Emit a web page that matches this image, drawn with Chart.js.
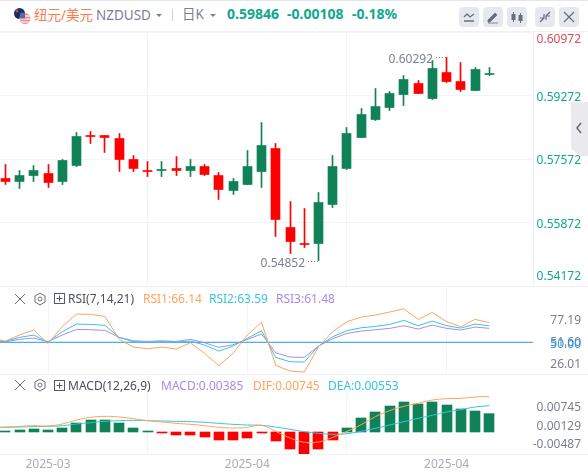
<!DOCTYPE html>
<html>
<head>
<meta charset="utf-8">
<script src="https://cdn.jsdelivr.net/npm/chart.js@4/dist/chart.umd.min.js"></script>
<style>
html,body{margin:0;padding:0;background:#fff;overflow:hidden}
#wrap{position:relative;width:588px;height:474px;overflow:hidden;font-family:"Noto Sans","Noto Sans CJK SC",sans-serif;border-top:1px solid #e4e7f0;box-sizing:border-box}
#wrap canvas{position:absolute;left:0}
.t{position:absolute;white-space:nowrap;line-height:16px;font-size:12px}
.btn{position:absolute;top:6px;width:20px;height:20px;background:#e6e8ef;border-radius:4px}
.btn svg,.ic{position:absolute;left:0;top:0}
.sep{position:absolute;left:0;width:588px;height:1px;background:#f0f1f5}
#side{position:absolute;left:571px;top:101px;width:17px;height:54px;background:#e9e9ee;clip-path:polygon(0 0,100% 0,100% 100%,50% 100%,0 86%)}
</style>
</head>
<body>
<div id="wrap">
  <canvas id="mainChart" width="588" height="254" style="top:31px"></canvas>
  <canvas id="rsiChart" width="588" height="88" style="top:285px"></canvas>
  <canvas id="macdChart" width="588" height="100" style="top:373px"></canvas>

  <div class="sep" style="top:30px"></div>
  <div class="sep" style="top:285px"></div>
  <div class="sep" style="top:373px"></div>
  <div class="sep" style="top:453px"></div>

  <svg class="ic" style="left:13px;top:6px" width="20" height="20">
    <circle cx="6.5" cy="6.5" r="5.5" fill="#12306e"/><circle cx="4" cy="4" r="1.4" fill="#d8404a"/>
    <circle cx="12" cy="11.5" r="5.5" fill="#e88f98"/><path d="M7 9h10M6.5 12h11M7 15h9" stroke="#fff" stroke-width="1"/>
    <path d="M7 6.5a5.500 5.500 0 0 1 5-0.500v5.500H7z" fill="#5d6a99"/>
  </svg>
  <div class="t" style="left:34px;top:6px;font-size:13.500px;color:#ff7a4f">纽元/美元</div>
  <div class="t" style="left:96px;top:6px;font-size:13.500px;color:#7d8090">NZDUSD</div>
  <svg class="ic" style="left:156px;top:12px" width="8" height="6"><path d="M0 1h6L3 4z" fill="#7d8090"/></svg>
  <div style="position:absolute;left:172px;top:8px;width:1px;height:12px;background:#ccd0dc"></div>
  <div class="t" style="left:182px;top:5px;font-size:13.500px;color:#7d8090">日K</div>
  <svg class="ic" style="left:210px;top:12px" width="8" height="6"><path d="M0 1h6L3 4z" fill="#7d8090"/></svg>
  <div class="t" style="left:227px;top:5px;font-size:14px;font-weight:700;color:#10a88c">0.59846</div>
  <div class="t" style="left:287px;top:5px;font-size:14px;font-weight:700;color:#10a88c">-0.00108</div>
  <div class="t" style="left:352px;top:5px;font-size:14px;font-weight:700;color:#10a88c">-0.18%</div>

  <div class="btn" style="left:459px"><svg width="20" height="20"><path d="M5 10l3-3 3 3 4-3M5 14h10" fill="none" stroke="#6a6d7c" stroke-width="1.300"/></svg></div>
  <div class="btn" style="left:483px"><svg width="20" height="20"><path d="M5 13l7-7 2 2-7 7H5zM5 16h10" fill="#6a6d7c" stroke="#6a6d7c" stroke-width="0.800"/></svg></div>
  <div class="btn" style="left:507px"><svg width="20" height="20"><path d="M6.500 5v10M13.500 6v10" stroke="#6a6d7c"/><rect x="4.500" y="7" width="4" height="6" fill="#6a6d7c"/><rect x="11.500" y="8" width="4" height="6" fill="#6a6d7c"/></svg></div>
  <div class="btn" style="left:535px"><svg width="20" height="20"><path d="M5 15l4-4M15 5l-4 4M9 7v4H5M11 13V9h4" fill="none" stroke="#6a6d7c" stroke-width="1.200"/></svg></div>
  <div class="btn" style="left:559px"><svg width="20" height="20"><path d="M5 5l10 10M15 5L5 15" stroke="#6a6d7c" stroke-width="1.200"/></svg></div>

  <div id="side"><svg width="17" height="54"><path d="M10 21l-4 5 4 5" fill="none" stroke="#666a78" stroke-width="1.500"/></svg></div>

  <svg class="ic" style="left:13px;top:291px" width="40" height="16">
    <path d="M2 2l10 10M12 2L2 12" stroke="#6a6d7c"/>
    <path d="M27 1l5 3v6l-5 3-5-3V4z" fill="none" stroke="#6a6d7c"/><circle cx="27" cy="7" r="2" fill="none" stroke="#6a6d7c"/>
  </svg>
  <svg class="ic" style="left:54px;top:292px" width="12" height="12"><rect x="0.500" y="0.500" width="10" height="10" fill="none" stroke="#55586a"/><path d="M5.500 2.500v6M2.500 5.500h6" stroke="#55586a"/></svg>
  <div class="t" style="left:68px;top:290px;color:#4a4d5c">RSI(7,14,21)</div>
  <div class="t" style="left:143px;top:290px;color:#ffa35c">RSI1:66.14</div>
  <div class="t" style="left:209px;top:290px;color:#35c6dc">RSI2:63.59</div>
  <div class="t" style="left:276px;top:290px;color:#a98be8">RSI3:61.48</div>

  <svg class="ic" style="left:13px;top:378px" width="40" height="16">
    <path d="M2 1l10 10M12 1L2 11" stroke="#6a6d7c"/>
    <path d="M27 0l5 3v6l-5 3-5-3V3z" fill="none" stroke="#6a6d7c"/><circle cx="27" cy="6" r="2" fill="none" stroke="#6a6d7c"/>
  </svg>
  <svg class="ic" style="left:54px;top:379px" width="12" height="12"><rect x="0.500" y="0.500" width="10" height="10" fill="none" stroke="#55586a"/><path d="M5.500 2.500v6M2.500 5.500h6" stroke="#55586a"/></svg>
  <div class="t" style="left:68px;top:377px;color:#4a4d5c">MACD(12,26,9)</div>
  <div class="t" style="left:161px;top:377px;color:#a98be8">MACD:0.00385</div>
  <div class="t" style="left:253px;top:377px;color:#ffa35c">DIF:0.00745</div>
  <div class="t" style="left:328px;top:377px;color:#35c6dc">DEA:0.00553</div>
</div>

<script>
// candles, oldest first
const open = [0.57050,0.56970,0.57130,0.57184,0.56970,0.57398,0.58201,0.58201,0.58121,0.57559,0.57264,0.57264,0.57318,0.57264,0.57371,0.57130,0.56729,0.56889,0.57237,0.57853,0.55738,0.55310,0.55310,0.56354,0.57318,0.58147,0.58629,0.58950,0.59298,0.59593,0.59191,0.59887,0.59646,0.59406,0.59834];
const close = [0.56970,0.57130,0.57264,0.56943,0.57532,0.58174,0.58174,0.58148,0.57559,0.57318,0.57237,0.57291,0.57264,0.57371,0.57157,0.56755,0.56970,0.57371,0.57933,0.55952,0.55363,0.55283,0.56407,0.57371,0.58255,0.58763,0.58977,0.59325,0.59700,0.59325,0.59995,0.59646,0.59432,0.59968,0.59861];
const high = [0.57425,0.57264,0.57398,0.57425,0.57559,0.58281,0.58308,0.58201,0.58255,0.57666,0.57505,0.57505,0.57639,0.57559,0.57425,0.57211,0.57050,0.57800,0.58549,0.57987,0.56434,0.56247,0.56675,0.57666,0.58415,0.58924,0.59459,0.59379,0.59807,0.59673,0.60209,0.60292,0.60155,0.60021,0.60021];
const low = [0.56889,0.56782,0.56970,0.56809,0.56889,0.57371,0.57987,0.57746,0.57237,0.57237,0.57103,0.57103,0.57130,0.57103,0.57130,0.56488,0.56622,0.56889,0.56809,0.55497,0.55042,0.55203,0.54852,0.56274,0.57291,0.58147,0.58602,0.58870,0.59004,0.59325,0.59165,0.59620,0.59379,0.59406,0.59807];

// indicator lines start one day before the first visible candle
const rsi1 = [53.48,51.01,55.95,60.06,49.10,62.80,73.21,72.93,71.29,52.38,46.08,44.71,46.08,44.44,49.64,40.88,30.74,40.88,55.95,66.36,31.01,26.36,25.53,46.36,58.69,66.91,70.74,72.39,74.85,77.59,68.82,74.58,66.91,62.80,68.82,66.14];
const rsi2 = [51.84,50.74,54.03,55.95,50.19,58.69,64.99,64.71,63.89,54.03,50.47,49.92,50.47,50.19,51.01,47.73,42.79,46.90,53.21,59.51,37.59,34.03,33.75,46.90,54.58,59.51,61.97,63.07,64.71,68.00,63.62,67.45,63.62,61.70,64.99,63.59];
const rsi3 = [51.01,50.47,52.38,53.48,50.47,55.95,60.60,60.33,59.78,54.03,51.29,50.74,51.29,50.74,52.38,49.64,45.81,48.00,52.38,56.77,41.42,37.86,37.59,46.90,52.93,57.32,59.23,60.33,61.43,63.62,60.88,64.17,61.43,60.06,62.52,61.48];
const dif = [0.00098,0.00105,0.00119,0.00133,0.00126,0.00168,0.00252,0.00308,0.00329,0.00315,0.00280,0.00238,0.00210,0.00182,0.00161,0.00133,0.00098,0.00084,0.00098,0.00140,0.00014,-0.00126,-0.00217,-0.00210,-0.00112,0.00014,0.00154,0.00322,0.00448,0.00539,0.00602,0.00672,0.00700,0.00707,0.00735,0.00745];
const dea = [0.00091,0.00098,0.00105,0.00112,0.00119,0.00133,0.00168,0.00196,0.00224,0.00238,0.00245,0.00238,0.00231,0.00224,0.00217,0.00203,0.00182,0.00161,0.00147,0.00140,0.00105,0.00056,0.00007,-0.00028,-0.00049,-0.00035,0.00014,0.00077,0.00147,0.00217,0.00287,0.00350,0.00420,0.00469,0.00525,0.00553];
const macd = [0.00021,0.00042,0.00063,0.00042,0.00084,0.00189,0.00252,0.00252,0.00189,0.00084,0.00007,-0.00014,-0.00063,-0.00063,-0.00105,-0.00168,-0.00168,-0.00126,-0.00014,-0.00189,-0.00357,-0.00462,-0.00357,-0.00168,0.00084,0.00294,0.00420,0.00546,0.00630,0.00588,0.00630,0.00567,0.00483,0.00441,0.00385];

const dateTicks = [3, 17, 31];
const dateLabels = ['2025-03', '2025-04', '2025-04'];
const priceTicks = [0.60972, 0.59272, 0.57572, 0.55872, 0.54172];
const rsiTicks = [77.19, 51.60, 26.01];
const macdTicks = [0.00745, 0.00129, -0.00487];

const UP = '#108257', DOWN = '#ff0000', GRID = '#f3f4f8';
const ORANGE = '#ffa35c', CYAN = '#35c6dc', PURPLE = '#a98be8', BLUE = '#2196f3';
const GREY = '#7c7f8f', TEAL = '#10a88c', TOP_RED = '#df4a5c';
const FONT = '12px "Noto Sans"';
const xMin = -0.372, xMax = 37.07;

const candleColor = close.map((c, i) => c >= open[i] ? UP : DOWN);
const macdColor = macd.map(v => v >= 0 ? UP : DOWN);
const withDay = arr => arr.map((v, i) => ({x: i - 1, y: v}));

// keep bars on whole pixels like the original
const snapBars = {
    id: 'snapBars',
    beforeDatasetsDraw(chart) {
        chart.data.datasets.forEach((ds, n) => {
            if (ds.type !== 'bar') return;
            chart.getDatasetMeta(n).data.forEach(el => {
                el.x = ds.barThickness % 2 ? Math.floor(el.x) + 0.5 : Math.round(el.x);
            });
        });
    }
};

// axis texts: kept inside the pane, so the top and bottom ones move in
const sideLabels = {
    id: 'sideLabels',
    afterDraw(chart, args, opts) {
        const ctx = chart.ctx, area = chart.chartArea, scale = chart.scales[opts.scale];
        ctx.save();
        ctx.font = FONT;
        ctx.textAlign = 'right';
        ctx.textBaseline = 'middle';
        opts.items.forEach(item => {
            const y = Math.min(Math.max(scale.getPixelForValue(item.value) + 2, area.top + 8), area.bottom - 9);
            ctx.fillStyle = item.color;
            ctx.fillText(item.text, 581, y);
        });
        ctx.restore();
    }
};

// highest and lowest price marks on the candle pane
const extremes = {
    id: 'extremes',
    afterDatasetsDraw(chart) {
        const ctx = chart.ctx, xs = chart.scales.x, ys = chart.scales.y;
        const maxVal = Math.max(...high), minVal = Math.min(...low);
        [[high.indexOf(maxVal), maxVal], [low.indexOf(minVal), minVal]].forEach(([i, v]) => {
            const x = Math.floor(xs.getPixelForValue(i)), y = Math.round(ys.getPixelForValue(v)) + 0.5;
            ctx.save();
            ctx.strokeStyle = GREY;
            ctx.setLineDash([1, 2]);
            ctx.beginPath();
            ctx.moveTo(x - 10, y);
            ctx.lineTo(x, y);
            ctx.stroke();
            ctx.fillStyle = GREY;
            ctx.font = FONT;
            ctx.textAlign = 'right';
            ctx.textBaseline = 'middle';
            ctx.fillText(v.toFixed(5), x - 13, y + 2);
            ctx.restore();
        });
    }
};

function xAxis(showText) {
    return {
        type: 'linear',
        offset: false,
        min: xMin,
        max: xMax,
        afterBuildTicks: s => { s.ticks = dateTicks.map(v => ({value: v})); },
        afterFit: s => {
            s.paddingLeft = 0;
            s.paddingRight = 0;
            if (showText) s.height = 20;
        },
        grid: {color: GRID, drawTicks: false},
        border: {display: false},
        ticks: {
            display: showText,
            autoSkip: false,
            maxRotation: 0,
            padding: 3,
            color: '#a9acb9',
            font: {family: 'Noto Sans', size: 12},
            callback: v => dateLabels[dateTicks.indexOf(v)]
        }
    };
}

const baseOptions = {
    responsive: false,
    animation: false,
    events: [],
    layout: {padding: {right: 55}}
};

new Chart(document.getElementById('mainChart'), {
    type: 'bar',
    plugins: [snapBars, extremes, sideLabels],
    data: {
        datasets: [
            {type: 'bar', grouped: false, barThickness: 1, backgroundColor: candleColor,
             data: low.map((l, i) => ({x: i, y: [l, high[i]]}))},
            {type: 'bar', grouped: false, barThickness: 9, backgroundColor: candleColor,
             data: open.map((o, i) => ({x: i, y: [o, close[i]]}))}
        ]
    },
    options: {
        ...baseOptions,
        plugins: {
            legend: {display: false},
            tooltip: {enabled: false},
            sideLabels: {
                scale: 'y',
                items: priceTicks.map((v, i) => ({value: v, text: v.toFixed(5), color: i ? TEAL : TOP_RED}))
            }
        },
        scales: {
            x: xAxis(false),
            y: {
                position: 'right',
                min: 0.54172,
                max: 0.60972,
                afterBuildTicks: s => { s.ticks = priceTicks.map(v => ({value: v})); },
                grid: {color: GRID, drawTicks: false},
                border: {display: true, color: '#eef0f4'},
                ticks: {display: false}
            }
        }
    }
});

new Chart(document.getElementById('rsiChart'), {
    type: 'line',
    plugins: [sideLabels],
    data: {
        datasets: [
            {label: 'RSI1', data: withDay(rsi1), borderColor: ORANGE},
            {label: 'RSI2', data: withDay(rsi2), borderColor: CYAN},
            {label: 'RSI3', data: withDay(rsi3), borderColor: PURPLE},
            {label: '50', data: [{x: xMin, y: 50}, {x: xMax, y: 50}], borderColor: BLUE}
        ]
    },
    options: {
        ...baseOptions,
        elements: {point: {radius: 0}, line: {borderWidth: 1, tension: 0}},
        plugins: {
            legend: {display: false},
            tooltip: {enabled: false},
            sideLabels: {
                scale: 'yText',
                items: rsiTicks.map(v => ({value: v, text: v.toFixed(2), color: GREY}))
                    .concat({value: 50, text: '50.00', color: BLUE})
            }
        },
        scales: {
            x: xAxis(false),
            y: {
                position: 'right',
                min: 23.94,
                max: 96.28,
                grid: {display: false, drawTicks: false},
                border: {display: false},
                ticks: {display: false}
            },
            // the printed tick values do not sit on the scale of the lines
            yText: {display: false, position: 'right', min: 13.6, max: 114.6}
        }
    }
});

new Chart(document.getElementById('macdChart'), {
    type: 'bar',
    plugins: [snapBars, sideLabels],
    data: {
        datasets: [
            {type: 'line', label: 'DIF', data: withDay(dif), borderColor: ORANGE, order: 0},
            {type: 'line', label: 'DEA', data: withDay(dea), borderColor: CYAN, order: 0},
            {type: 'bar', label: 'MACD', grouped: false, barThickness: 10, minBarLength: 1, backgroundColor: macdColor, order: 1,
             data: macd.map((v, i) => ({x: i, y: v}))}
        ]
    },
    options: {
        ...baseOptions,
        elements: {point: {radius: 0}, line: {borderWidth: 1, tension: 0.4}},
        plugins: {
            legend: {display: false},
            tooltip: {enabled: false},
            sideLabels: {
                scale: 'yText',
                items: macdTicks.map(v => ({value: v, text: v.toFixed(5), color: GREY}))
            }
        },
        scales: {
            x: xAxis(true),
            y: {
                position: 'right',
                min: -0.00462,
                max: 0.01218,
                grid: {display: false, drawTicks: false},
                border: {display: false},
                ticks: {display: false}
            },
            yText: {display: false, position: 'right', min: -0.00839, max: 0.01785}
        }
    }
});
</script>
</body>
</html>
